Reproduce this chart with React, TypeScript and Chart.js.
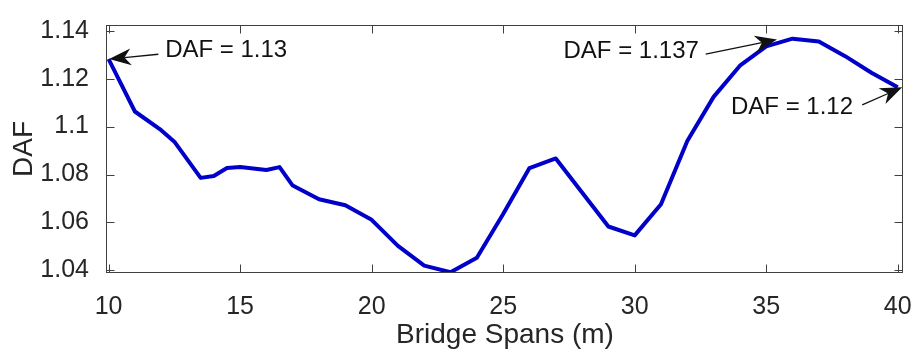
import { useEffect, useRef } from "react";
import { Chart, registerables } from "chart.js";

Chart.register(...registerables);

// ---- data ----
const spans = [10, 11, 12, 12.5, 13.5, 14, 14.5, 15, 16, 16.5, 17, 18, 19, 20, 21, 22, 23, 24, 25, 26, 27, 28, 29, 30, 31, 32, 33, 34, 35, 36, 37, 38, 39, 40];
const dafValues = [1.1282, 1.1063, 1.0985, 1.0937, 1.0786, 1.0794, 1.0827, 1.0831, 1.0819, 1.0831, 1.0754, 1.0697, 1.0672, 1.0611, 1.0502, 1.042, 1.0392, 1.0453, 1.0635, 1.0827, 1.0867, 1.0725, 1.0583, 1.0546, 1.0676, 1.094, 1.1124, 1.1254, 1.1335, 1.1367, 1.1355, 1.1294, 1.1225, 1.1164];
const xTickValues = [10, 15, 20, 25, 30, 35, 40];
const yTickValues = [1.04, 1.06, 1.08, 1.1, 1.12, 1.14];
const annotationTexts = ["DAF = 1.13", "DAF = 1.137", "DAF = 1.12"];

const FONT = "'Liberation Sans', Arial, Helvetica, sans-serif";
const TEXT = "#262626";
const FRAME = "#404040";

// annotation layout (data coordinates): tip, tail, text anchor
const annotationLayout = [
  { tip: [10.02, 1.1282], tail: [11.89, 1.1302], text: [12.15, 1.1319], align: "left" },
  { tip: [35.41, 1.1363], tail: [32.7, 1.1302], text: [32.44, 1.1315], align: "right" },
  { tip: [40.17, 1.1164], tail: [38.65, 1.1091], text: [38.3, 1.1079], align: "right" },
];

function drawArrow(ctx: CanvasRenderingContext2D, x0: number, y0: number, x1: number, y1: number) {
  const ang = Math.atan2(y1 - y0, x1 - x0);
  const cos = Math.cos(ang), sin = Math.sin(ang);
  const L = 22, W = 8.5, back = L * 0.7;
  ctx.beginPath();
  ctx.moveTo(x0, y0);
  ctx.lineTo(x1 - cos * back, y1 - sin * back);
  ctx.stroke();
  const bx = x1 - cos * L, by = y1 - sin * L;
  ctx.beginPath();
  ctx.moveTo(x1, y1);
  ctx.lineTo(bx - sin * W, by + cos * W);
  ctx.lineTo(x1 - cos * back, y1 - sin * back);
  ctx.lineTo(bx + sin * W, by - cos * W);
  ctx.closePath();
  ctx.fill();
}

const frameAndAnnotations = {
  id: "frameAndAnnotations",
  afterDraw(chart: any) {
    const { ctx, chartArea: a, scales } = chart;
    const xs = scales.x, ys = scales.y;
    ctx.save();
    // box frame
    ctx.strokeStyle = FRAME;
    ctx.lineWidth = 1;
    const l = Math.round(a.left) - 0.5, r = Math.round(a.right) - 0.5;
    const t = Math.round(a.top) + 0.5, b = Math.round(a.bottom) - 0.5;
    ctx.strokeRect(l, t, r - l, b - t);
    // inward ticks on all sides
    const TL = 8;
    ctx.beginPath();
    for (const v of xTickValues) {
      const px = Math.round(xs.getPixelForValue(v)) + 0.5;
      ctx.moveTo(px, b); ctx.lineTo(px, b - TL);
      ctx.moveTo(px, t); ctx.lineTo(px, t + TL);
    }
    for (const v of yTickValues) {
      const py = Math.round(ys.getPixelForValue(v)) + 0.5;
      ctx.moveTo(l, py); ctx.lineTo(l + TL, py);
      ctx.moveTo(r, py); ctx.lineTo(r - TL, py);
    }
    ctx.stroke();

    // annotations
    ctx.fillStyle = "#111111";
    ctx.strokeStyle = "#111111";
    ctx.lineWidth = 1.3;
    ctx.font = `24px ${FONT}`;
    ctx.textBaseline = "middle";
    annotationLayout.forEach((an, i) => {
      const tx = xs.getPixelForValue(an.tip[0]), ty = ys.getPixelForValue(an.tip[1]);
      const sx = xs.getPixelForValue(an.tail[0]), sy = ys.getPixelForValue(an.tail[1]);
      drawArrow(ctx, sx, sy, tx, ty);
      ctx.textAlign = an.align as CanvasTextAlign;
      ctx.fillText(annotationTexts[i], xs.getPixelForValue(an.text[0]), ys.getPixelForValue(an.text[1]));
    });
    ctx.restore();
  },
};

export default function App() {
  const ref = useRef<HTMLCanvasElement | null>(null);

  useEffect(() => {
    document.body.style.margin = "0";
    if (!ref.current) return;
    const chart = new Chart(ref.current, {
      type: "line",
      data: {
        datasets: [
          {
            data: spans.map((x, i) => ({ x, y: dafValues[i] })),
            borderColor: "#0000c8",
            borderWidth: 4,
            pointRadius: 0,
            tension: 0,
            fill: false,
            borderJoinStyle: "round",
          },
        ],
      },
      options: {
        animation: false,
        responsive: false,
        devicePixelRatio: 1,
        layout: { padding: { left: 0, right: 12, top: 18, bottom: 0 } },
        plugins: { legend: { display: false }, tooltip: { enabled: false } },
        scales: {
          x: {
            type: "linear",
            min: 9.94,
            max: 40.2,
            grid: { display: false },
            border: { display: false },
            afterBuildTicks: (s: any) => {
              s.ticks = xTickValues.map((v) => ({ value: v }));
            },
            afterFit: (s: any) => {
              s.height = 80;
              s.paddingLeft = 0;
              s.paddingRight = 0;
            },
            ticks: {
              font: { family: FONT, size: 25 },
              color: TEXT,
              padding: 11,
              maxRotation: 0,
              autoSkip: false,
              callback: (v: any) => String(v),
            },
            title: {
              display: true,
              text: "Bridge Spans (m)",
              font: { family: FONT, size: 28 },
              color: TEXT,
              padding: { top: 0, bottom: 1 },
            },
          },
          y: {
            type: "linear",
            min: 1.0389,
            max: 1.1424,
            grid: { display: false },
            border: { display: false },
            afterBuildTicks: (s: any) => {
              s.ticks = yTickValues.map((v) => ({ value: v }));
            },
            afterFit: (s: any) => {
              s.width = 107;
            },
            ticks: {
              font: { family: FONT, size: 25 },
              color: TEXT,
              padding: 10,
              autoSkip: false,
              callback: (v: any) => String(Math.round(Number(v) * 100) / 100),
            },
            title: {
              display: true,
              text: "DAF",
              font: { family: FONT, size: 28 },
              color: TEXT,
              padding: { top: 7, bottom: 0 },
            },
          },
        },
      },
      plugins: [frameAndAnnotations],
    });
    return () => chart.destroy();
  }, []);

  return (
    <div style={{ width: 915, height: 353 }}>
      <canvas ref={ref} width={915} height={353} style={{ display: "block" }} />
    </div>
  );
}
